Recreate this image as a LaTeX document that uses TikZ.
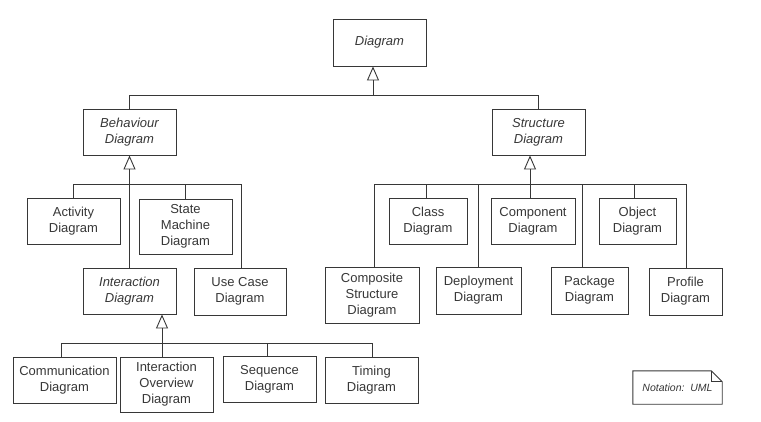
\documentclass[tikz,border=0pt]{standalone}
\usepackage{fontspec}
\setmainfont{Liberation Sans}
\usetikzlibrary{arrows.meta,calc}
\definecolor{ink}{RGB}{55,55,55}
\begin{document}
\begin{tikzpicture}[x=1pt,y=-1pt,
  box/.style={draw=ink,line width=0.9pt,text=ink,inner sep=0pt,align=center,
    font=\fontsize{13}{16}\selectfont},
  abs/.style={box,font=\fontsize{13}{16}\selectfont\itshape},
  wire/.style={draw=ink,line width=0.9pt},
  gen/.style={wire,-{Triangle[open,length=14pt,width=12pt,fill=white]}}]
\useasboundingbox (0,0) rectangle (761,422);
% nodes
\node[abs,minimum width=93,minimum height=47] (diag) at (379.5,42.5) {Diagram};
\node[abs,minimum width=93,minimum height=46] (beh) at (129.5,132) {Behaviour\\Diagram};
\node[abs,minimum width=93,minimum height=46] (str) at (538.5,132) {Structure\\Diagram};
\node[box,minimum width=93,minimum height=46] (act) at (73.5,221) {Activity\\Diagram};
\node[box,minimum width=93,minimum height=55] (sm) at (185.5,226.5) {State\\Machine\\Diagram};
\node[abs,minimum width=93,minimum height=46] (inter) at (129.5,291) {Interaction\\Diagram};
\node[box,minimum width=92,minimum height=47] (uc) at (240,291.5) {Use Case\\Diagram};
\node[box,minimum width=103,minimum height=46] (comm) at (64.5,380) {Communication\\Diagram};
\node[box,minimum width=93,minimum height=55] (io) at (166.5,384.5) {Interaction\\Overview\\Diagram};
\node[box,minimum width=93,minimum height=46] (seq) at (269.5,379) {Sequence\\Diagram};
\node[box,minimum width=93,minimum height=46] (tim) at (371.5,380) {Timing\\Diagram};
\node[box,minimum width=94,minimum height=56] (comp) at (372,295) {Composite\\Structure\\Diagram};
\node[box,minimum width=78,minimum height=46] (cls) at (428,221) {Class\\Diagram};
\node[box,minimum width=85,minimum height=47] (dep) at (478.5,290.5) {Deployment\\Diagram};
\node[box,minimum width=84,minimum height=46] (cmp) at (533,221) {Component\\Diagram};
\node[box,minimum width=77,minimum height=47] (pkg) at (589.5,290.5) {Package\\Diagram};
\node[box,minimum width=77,minimum height=46] (obj) at (637.5,221) {Object\\Diagram};
\node[box,minimum width=73,minimum height=47] (prof) at (685.5,291.5) {Profile\\Diagram};
% note
\node[inner sep=0pt,minimum width=89,minimum height=33,text=ink,
  font=\fontsize{10.5}{12}\selectfont\itshape] (note) at (677.5,387.5) {Notation:\ \ UML};
\draw[wire] (note.north west) -- ([xshift=-11]note.north east) -- ([yshift=-11]note.north east)
  -- (note.south east) -- (note.south west) -- cycle;
\draw[wire] ([xshift=-11]note.north east) -- ([xshift=-11,yshift=-11]note.north east) -- ([yshift=-11]note.north east);
% level 0
\coordinate (b0) at (0,95);
\coordinate (b1) at (0,184);
\coordinate (b2) at (0,343);
\draw[wire] (beh.north) -- (beh.north |- b0) -- (str.north |- b0) -- (str.north);
\coordinate (j0) at ([xshift=-6.5]diag.south |- b0);
\draw[gen] (j0) -- (j0 |- diag.south);
% behaviour
\draw[wire] (act.north) -- (act.north |- b1) -- ([xshift=1]uc.north |- b1) -- ([xshift=1]uc.north);
\draw[wire] (sm.north) -- (sm.north |- b1);
\draw[gen] (inter.north) -- (beh.south);
% interaction
\coordinate (icomm) at ([xshift=-3.5]comm.north);
\coordinate (iio) at ([xshift=-4.5]io.north);
\coordinate (iseq) at ([xshift=-2.5]seq.north);
\draw[wire] (icomm) -- (icomm |- b2) -- ([xshift=0.5]tim.north |- b2) -- ([xshift=0.5]tim.north);
\draw[wire] (iseq) -- (iseq |- b2);
\draw[gen] (iio) -- (iio |- inter.south);
% structure
\coordinate (scomp) at ([xshift=2]comp.north);
\coordinate (scls) at ([xshift=-2]cls.north);
\coordinate (scmp) at ([xshift=-3]cmp.north);
\coordinate (spkg) at ([xshift=-7.5]pkg.north);
\coordinate (sobj) at ([xshift=-3.5]obj.north);
\coordinate (sprof) at ([xshift=0.5]prof.north);
\draw[wire] (scomp) -- (scomp |- b1) -- (sprof |- b1) -- (sprof);
\draw[wire] (scls) -- (scls |- b1);
\draw[wire] (dep.north) -- (dep.north |- b1);
\draw[wire] (spkg) -- (spkg |- b1);
\draw[wire] (sobj) -- (sobj |- b1);
\draw[gen] (scmp) -- (scmp |- str.south);
\end{tikzpicture}
\end{document}
